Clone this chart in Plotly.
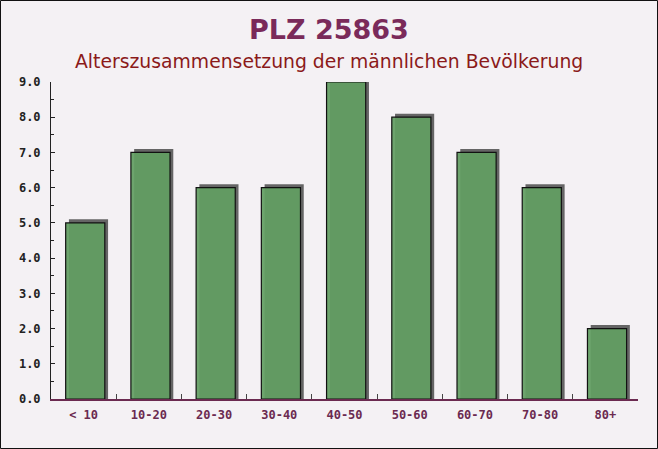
import plotly.graph_objects as go

categories = ["< 10", "10-20", "20-30", "30-40", "40-50", "50-60", "60-70", "70-80", "80+"]
values = [5, 7, 6, 6, 9, 8, 7, 6, 2]
title_text = "PLZ 25863"
subtitle_text = "Alterszusammensetzung der männlichen Bevölkerung"

W, H = 658, 449
ml, mr, mt, mb = 51, 20, 82, 50

bar_w = 0.6
bar_shift = 0.025
shadow_dx = 0.05
shadow_dy = 0.1

fig = go.Figure()
fig.add_trace(go.Bar(
    x=categories, y=[v + shadow_dy for v in values],
    width=bar_w, offset=-bar_w / 2 + bar_shift + shadow_dx,
    marker=dict(color="rgba(85,85,85,0.9)", line=dict(width=0)),
    hoverinfo="skip", showlegend=False, cliponaxis=False,
))
fig.add_trace(go.Bar(
    x=categories, y=values,
    width=bar_w, offset=-bar_w / 2 + bar_shift,
    marker=dict(color="rgba(98,158,98,0.93)", line=dict(color="#111111", width=1.2)),
    showlegend=False, cliponaxis=False,
))

fig.update_layout(
    width=W, height=H,
    margin=dict(l=ml, r=mr, t=mt, b=mb),
    barmode="overlay",
    paper_bgcolor="#f4f1f4",
    plot_bgcolor="rgba(0,0,0,0)",
    xaxis=dict(
        showgrid=False, showline=True, linecolor="#6b2a50", linewidth=1.5,
        ticks="inside", ticklen=5, tickcolor="#444444",
        tickmode="array", tickvals=categories, ticktext=categories,
        tickson="boundaries", ticklabelstandoff=4,
        tickfont=dict(family="DejaVu Sans Mono", size=12, color="#6b2a50", weight="bold"),
    ),
    yaxis=dict(
        range=[0, 9], dtick=1, tickformat=".1f", showgrid=False,
        showline=True, linecolor="#222222", linewidth=1,
        ticks="inside", ticklen=4, tickcolor="#222222",
        minor=dict(dtick=0.5, ticks="inside", ticklen=3, tickcolor="#222222"),
        zeroline=False, ticklabelstandoff=7,
        tickfont=dict(family="DejaVu Sans Mono", size=12, color="#222222", weight="bold"),
    ),
    annotations=[
        dict(text="<b>" + title_text + "</b>", xref="paper", yref="paper",
             x=0.5 - (ml - mr) / 2 / (W - ml - mr), xanchor="center",
             y=1 + (mt - 30) / (H - mt - mb), yanchor="middle", showarrow=False,
             font=dict(family="DejaVu Sans", size=27, color="#7a2a5a")),
        dict(text=subtitle_text, xref="paper", yref="paper",
             x=0.5 - (ml - mr) / 2 / (W - ml - mr), xanchor="center",
             y=1 + (mt - 62) / (H - mt - mb), yanchor="middle", showarrow=False,
             font=dict(family="DejaVu Sans", size=18.8, color="#8b1a1a")),
    ],
    shapes=[dict(type="rect", xref="paper", yref="paper",
                 x0=-(ml - 0.5) / (W - ml - mr), x1=1 + (mr - 0.5) / (W - ml - mr),
                 y0=-(mb - 0.5) / (H - mt - mb), y1=1 + (mt - 0.5) / (H - mt - mb),
                 line=dict(color="#111111", width=1), layer="below")],
)

fig.write_html("out.html", config={"displayModeBar": False},
               post_script="document.body.style.margin='0';document.body.style.overflow='hidden';")
